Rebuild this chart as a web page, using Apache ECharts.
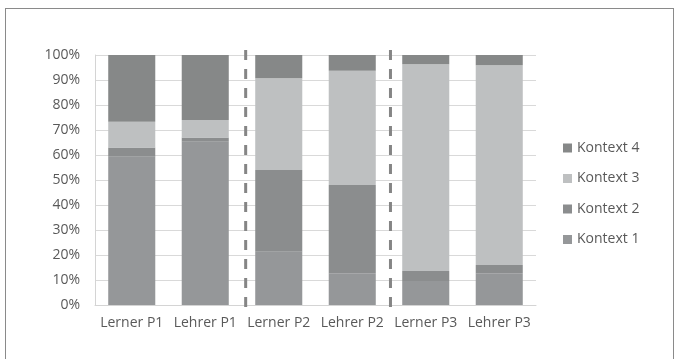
<!DOCTYPE html>
<html>
<head>
<meta charset="utf-8">
<script src="https://cdn.jsdelivr.net/npm/echarts@6/dist/echarts.min.js"></script>
<style>
  html, body { margin: 0; padding: 0; background: #fff; }
  #chart { position: absolute; left: 0; top: 0; width: 676px; height: 359px; }
  #frame { position: absolute; left: 5px; top: 8px; width: 667px; height: 360px;
           border: 1px solid #8a8a8a; pointer-events: none; }
</style>
</head>
<body>
<div id="chart"></div>
<div id="frame"></div>
<script>
// Share of each context per speaker group (percent of utterances)
const categories = ['Lerner P1', 'Lehrer P1', 'Lerner P2', 'Lehrer P2', 'Lerner P3', 'Lehrer P3'];
const kontext1 = [59.3, 65.3, 21.3, 12.7, 9.6, 12.7];
const kontext2 = [3.7, 1.7, 32.7, 35.3, 4.0, 3.3];
const kontext3 = [10.3, 7.0, 36.7, 45.7, 82.7, 79.9];
const kontext4 = [26.7, 26.0, 9.3, 6.3, 3.7, 4.1];
const yTicks = [0, 10, 20, 30, 40, 50, 60, 70, 80, 90, 100];
// Dashed separators between the phases, on a 0..6 category-span scale
const dividers = [2.05, 4.02];
const dividerSpan = [-0.8, 103.2];

const textColor = '#595959';
const font = 'Open Sans';

const barSeries = [
  { name: 'Kontext 1', data: kontext1, color: '#959799' },
  { name: 'Kontext 2', data: kontext2, color: '#8b8d8e' },
  { name: 'Kontext 3', data: kontext3, color: '#bec0c1' },
  { name: 'Kontext 4', data: kontext4, color: '#868888' }
].map(s => ({
  name: s.name,
  type: 'bar',
  stack: 'total',
  data: s.data,
  barCategoryGap: '36%',
  itemStyle: { color: s.color },
  emphasis: { disabled: true }
}));

const dividerSeries = dividers.map(x => ({
  type: 'line',
  xAxisIndex: 1,
  yAxisIndex: 0,
  data: [[x, dividerSpan[0]], [x, dividerSpan[1]]],
  symbol: 'none',
  clip: false,
  silent: true,
  lineStyle: { color: '#858585', width: 3, type: [10, 9] },
  z: 5
}));

const chart = echarts.init(document.getElementById('chart'), null, { renderer: 'canvas' });
chart.setOption({
  animation: false,
  backgroundColor: '#fff',
  grid: { left: 95, right: 140, top: 55, bottom: 54 },
  legend: {
    orient: 'vertical',
    left: 558,
    top: 136,
    itemWidth: 9,
    itemHeight: 9,
    itemGap: 16.5,
    icon: 'rect',
    data: ['Kontext 4', 'Kontext 3', 'Kontext 2', 'Kontext 1'],
    textStyle: { color: textColor, fontFamily: font, fontSize: 14, lineHeight: 14 }
  },
  xAxis: [
    {
      type: 'category',
      data: categories,
      axisLine: { lineStyle: { color: '#d4d4d4' } },
      axisTick: { show: false },
      axisLabel: { color: textColor, fontFamily: font, fontSize: 14, margin: 11, interval: 0 }
    },
    {
      type: 'value',
      min: 0,
      max: 6,
      show: false
    }
  ],
  yAxis: {
    type: 'value',
    min: yTicks[0],
    max: yTicks[yTicks.length - 1],
    interval: yTicks[1] - yTicks[0],
    axisLine: { show: true, lineStyle: { color: '#d4d4d4' } },
    axisTick: { show: false },
    splitLine: { lineStyle: { color: '#d9d9d9' } },
    axisLabel: { color: textColor, fontFamily: font, fontSize: 14, margin: 15, formatter: '{value}%' }
  },
  series: barSeries.concat(dividerSeries)
});
</script>
</body>
</html>
